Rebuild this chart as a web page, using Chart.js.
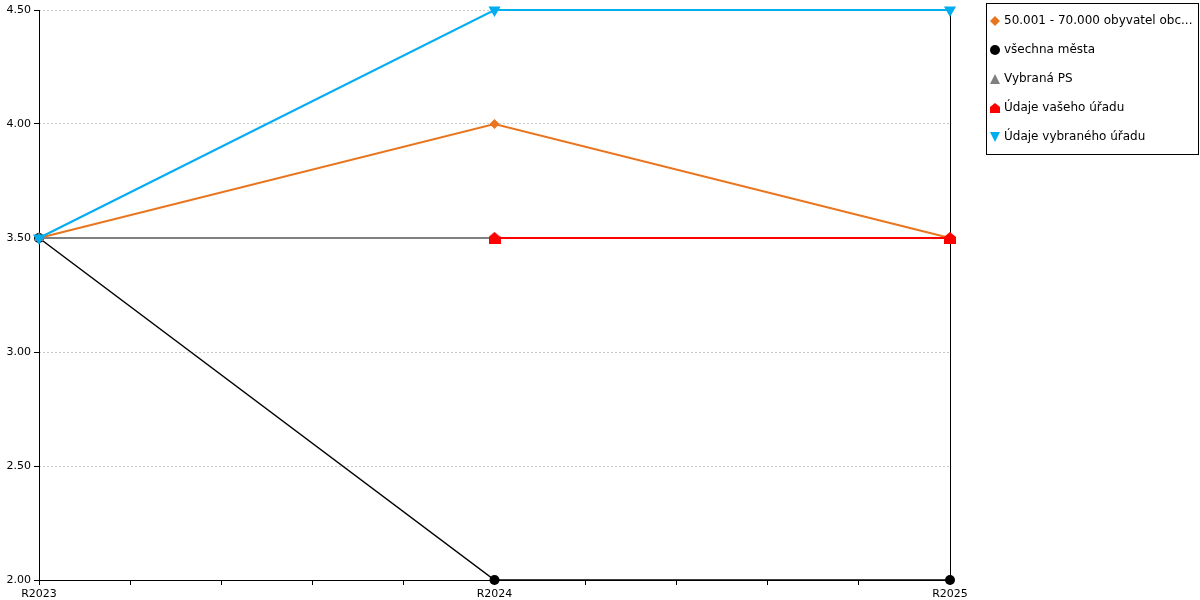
<!DOCTYPE html>
<html lang="cs">
<head>
    <meta charset="UTF-8">
    <title>Vývoj hodnocení</title>
    <script src="https://cdn.jsdelivr.net/npm/chart.js"></script>
    <style>
        body {
            margin: 0;
            background: #fff;
            font-family: "DejaVu Sans", Verdana, sans-serif;
        }
        .wrap {
            position: relative;
            width: 1200px;
            height: 600px;
        }
        .legend {
            position: absolute;
            left: 986px;
            top: 3px;
            width: 211px;
            height: 150px;
            border: 1px solid #000;
            font-size: 12px;
            color: #000;
        }
        .legend div {
            position: absolute;
            left: 3px;
            height: 16px;
            line-height: 16px;
            white-space: nowrap;
        }
        .legend svg {
            vertical-align: -2px;
            margin-right: 4px;
        }
    </style>
</head>
<body>
<div class="wrap">
    <canvas id="chart" width="1200" height="600"></canvas>
    <div class="legend" id="legend"></div>
</div>

<script>
    const categories = ["R2023", "R2024", "R2025"];
    const seriesNames = [
        "50.001 - 70.000 obyvatel obc...",
        "všechna města",
        "Vybraná PS",
        "Údaje vašeho úřadu",
        "Údaje vybraného úřadu"
    ];
    const obce50_70 = [3.5, 4.0, 3.5];
    const vsechnaMesta = [3.5, 2.0, 2.0];
    const vybranaPS = [3.5, 3.5, 3.5];
    const vasUrad = [null, 3.5, 3.5];
    const vybranyUrad = [3.5, 4.5, 4.5];
    const yTicks = [2.0, 2.5, 3.0, 3.5, 4.0, 4.5];

    // red "house" marker
    function houseMarker(color) {
        const c = document.createElement('canvas');
        c.width = 12; c.height = 12;
        const g = c.getContext('2d');
        g.fillStyle = color;
        g.beginPath();
        g.moveTo(6, 0);
        g.lineTo(12, 5);
        g.lineTo(12, 12);
        g.lineTo(0, 12);
        g.lineTo(0, 5);
        g.closePath();
        g.fill();
        return c;
    }

    function toPoints(values) {
        return values.map((v, i) => ({ x: i, y: v }));
    }

    const styles = [
        { color: '#e8761e', point: 'rectRot', radius: 5, rot: 0, width: 2 },
        { color: '#000000', point: 'circle', radius: 5, rot: 0, width: 1.5 },
        { color: '#808080', point: 'triangle', radius: 6, rot: 0, width: 2 },
        { color: '#ff0000', point: houseMarker('#ff0000'), radius: 6, rot: 0, width: 2 },
        { color: '#00adef', point: 'triangle', radius: 7, rot: 180, width: 2 }
    ];
    const seriesData = [obce50_70, vsechnaMesta, vybranaPS, vasUrad, vybranyUrad];

    const datasets = seriesData.map((vals, i) => ({
        label: seriesNames[i],
        data: toPoints(vals),
        borderColor: styles[i].color,
        backgroundColor: styles[i].color,
        borderWidth: styles[i].width,
        pointStyle: styles[i].point,
        pointRadius: styles[i].radius,
        pointRotation: styles[i].rot,
        pointBorderWidth: 0,
        pointHoverRadius: styles[i].radius,
        order: seriesData.length - i,
        tension: 0,
        spanGaps: false,
        clip: false
    }));

    // frame lines: left axis, bottom axis, right edge
    const framePlugin = {
        id: 'frame',
        beforeDatasetsDraw(chart) {
            const a = chart.chartArea;
            const ctx = chart.ctx;
            ctx.save();
            ctx.strokeStyle = '#000';
            ctx.lineWidth = 1;
            ctx.setLineDash([]);
            ctx.beginPath();
            ctx.moveTo(a.left + 0.5, a.top);
            ctx.lineTo(a.left + 0.5, a.bottom);
            ctx.moveTo(a.left, a.bottom + 0.5);
            ctx.lineTo(a.right, a.bottom + 0.5);
            ctx.moveTo(a.right + 0.5, a.top);
            ctx.lineTo(a.right + 0.5, a.bottom);
            ctx.stroke();
            ctx.restore();
        }
    };

    new Chart(document.getElementById('chart'), {
        type: 'line',
        data: { datasets: datasets },
        options: {
            responsive: false,
            animation: false,
            layout: { padding: { top: 10, right: 250, left: 0, bottom: 0 } },
            plugins: {
                legend: { display: false },
                tooltip: { enabled: false }
            },
            scales: {
                x: {
                    type: 'linear',
                    min: 0,
                    max: categories.length - 1,
                    afterBuildTicks(scale) {
                        const t = [];
                        for (let k = 0; k <= (categories.length - 1) * 5; k++) t.push({ value: k / 5 });
                        scale.ticks = t;
                    },
                    afterFit(scale) { scale.height = 20; },
                    ticks: {
                        autoSkip: false,
                        maxRotation: 0,
                        padding: 3,
                        color: '#000',
                        font: { family: 'DejaVu Sans', size: 11 },
                        callback(v) {
                            const r = Math.round(v);
                            return Math.abs(v - r) < 1e-6 ? categories[r] : '';
                        }
                    },
                    grid: {
                        drawOnChartArea: false,
                        drawTicks: true,
                        tickLength: 5,
                        color: '#000'
                    },
                    border: { display: false }
                },
                y: {
                    min: yTicks[0],
                    max: yTicks[yTicks.length - 1],
                    afterBuildTicks(scale) {
                        scale.ticks = yTicks.map(v => ({ value: v }));
                    },
                    afterFit(scale) { scale.width = 39; },
                    ticks: {
                        padding: 3,
                        color: '#000',
                        font: { family: 'DejaVu Sans', size: 11 },
                        callback(v) { return v.toFixed(2); }
                    },
                    grid: {
                        color: '#c8c8c8',
                        tickColor: '#000',
                        tickLength: 5,
                        drawTicks: true
                    },
                    border: { display: false, dash: [2, 2] }
                }
            }
        },
        plugins: [framePlugin]
    });

    // legend
    const icons = [
        '<svg width="10" height="10"><polygon points="5,0 10,5 5,10 0,5" fill="#e8761e"/></svg>',
        '<svg width="10" height="10"><circle cx="5" cy="5" r="5" fill="#000"/></svg>',
        '<svg width="10" height="10"><polygon points="5,0 10,10 0,10" fill="#808080"/></svg>',
        '<svg width="10" height="10"><polygon points="5,0 10,4 10,10 0,10 0,4" fill="#ff0000"/></svg>',
        '<svg width="10" height="10"><polygon points="0,0 10,0 5,10" fill="#00adef"/></svg>'
    ];
    const legend = document.getElementById('legend');
    seriesNames.forEach((name, i) => {
        const d = document.createElement('div');
        d.style.top = (8 + i * 29) + 'px';
        d.innerHTML = icons[i] + name;
        legend.appendChild(d);
    });
</script>
</body>
</html>
